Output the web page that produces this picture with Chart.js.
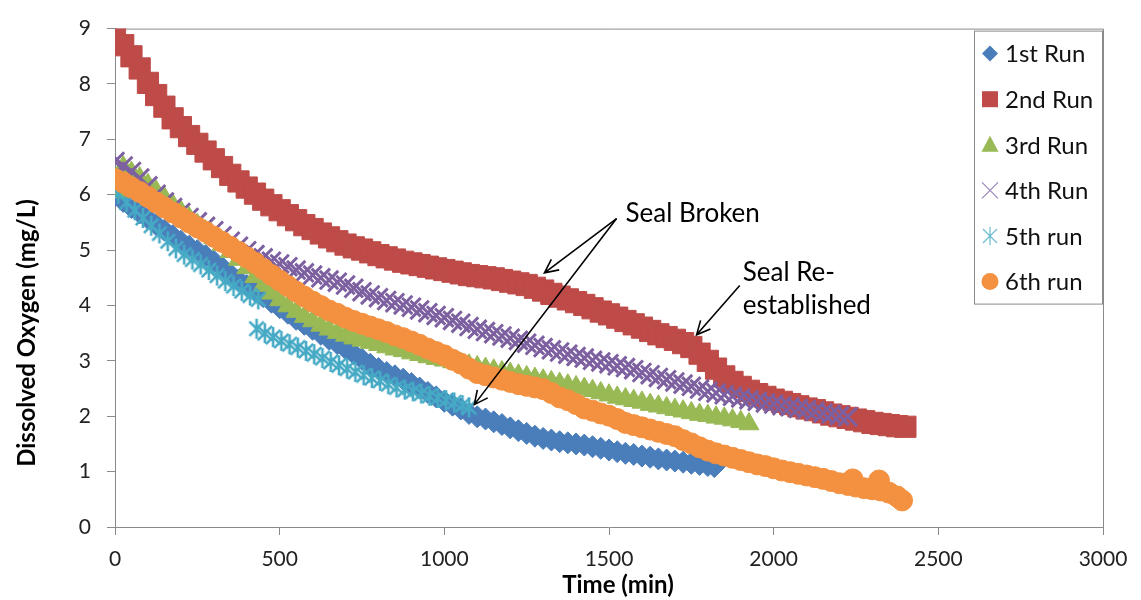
<!DOCTYPE html>
<html>
<head>
<meta charset="utf-8">
<title>Dissolved Oxygen</title>
<script src="https://cdn.jsdelivr.net/npm/chart.js@4.4.0/dist/chart.umd.min.js"></script>
<style>
  html, body { margin: 0; padding: 0; background: #fff; }
  #wrap { width: 1141px; height: 600px; }
</style>
</head>
<body>
<div id="wrap"><canvas id="chart" width="1141" height="600"></canvas></div>
<script>
//// readings: time (min) / dissolved oxygen (mg/L)
var run1Time = [0,25,50,75,100,125,150,175,200,225,250,275,300,325,350,375,400,425,450,475,500,525,550,575,600,625,650,675,700,725,750,775,800,825,850,875,900,925,950,975,1000,1025,1050,1075,1100,1125,1150,1175,1200,1225,1250,1275,1300,1325,1350,1375,1400,1425,1450,1475,1500,1525,1550,1575,1600,1625,1650,1675,1700,1725,1750,1775,1800,1820];
var run1DO = [5.98,5.88,5.77,5.67,5.57,5.46,5.36,5.26,5.16,5.07,4.99,4.90,4.80,4.69,4.57,4.46,4.36,4.26,4.16,4.06,3.96,3.86,3.75,3.66,3.57,3.48,3.39,3.31,3.22,3.13,3.03,2.94,2.86,2.79,2.73,2.67,2.59,2.51,2.43,2.35,2.27,2.20,2.13,2.05,1.99,1.95,1.90,1.85,1.79,1.74,1.69,1.64,1.60,1.57,1.54,1.52,1.50,1.48,1.45,1.42,1.39,1.36,1.33,1.31,1.28,1.26,1.23,1.21,1.19,1.17,1.15,1.13,1.11,1.09];

var run2Time = [0,25,50,75,100,125,150,175,200,225,250,275,300,325,350,375,400,425,450,475,500,525,550,575,600,625,650,675,700,725,750,775,800,825,850,875,900,925,950,975,1000,1025,1050,1075,1100,1125,1150,1175,1200,1225,1250,1275,1300,1325,1350,1375,1400,1425,1450,1475,1500,1525,1550,1575,1600,1625,1650,1675,1700,1725,1750,1775,1800,1825,1850,1875,1900,1925,1950,1975,2000,2025,2050,2075,2100,2125,2150,2175,2200,2225,2250,2275,2300,2325,2350,2375,2400];
var run2DO = [8.85,8.70,8.50,8.28,8.02,7.80,7.59,7.38,7.22,7.06,6.92,6.78,6.64,6.50,6.36,6.24,6.13,6.02,5.91,5.81,5.72,5.63,5.54,5.45,5.38,5.30,5.23,5.16,5.10,5.05,5.01,4.96,4.91,4.87,4.83,4.79,4.76,4.73,4.70,4.67,4.64,4.61,4.58,4.55,4.53,4.51,4.49,4.46,4.43,4.40,4.37,4.32,4.27,4.21,4.16,4.11,4.06,4.01,3.95,3.89,3.84,3.78,3.72,3.66,3.60,3.54,3.48,3.43,3.38,3.32,3.25,3.13,3.00,2.86,2.72,2.62,2.53,2.46,2.40,2.35,2.30,2.26,2.22,2.18,2.14,2.11,2.07,2.03,2.00,1.97,1.94,1.91,1.88,1.86,1.84,1.82,1.81];

var run3Time = [0,25,50,75,100,125,150,175,200,225,250,275,300,325,350,375,400,425,450,475,500,525,550,575,600,625,650,675,700,725,750,775,800,825,850,875,900,925,950,975,1000,1025,1050,1075,1100,1125,1150,1175,1200,1225,1250,1275,1300,1325,1350,1375,1400,1425,1450,1475,1500,1525,1550,1575,1600,1625,1650,1675,1700,1725,1750,1775,1800,1825,1850,1875,1900,1925];
var run3DO = [6.05,6.50,6.40,6.30,6.18,6.06,5.94,5.82,5.70,5.58,5.46,5.34,5.22,5.10,4.97,4.83,4.68,4.52,4.36,4.22,4.10,3.99,3.89,3.80,3.72,3.64,3.57,3.51,3.46,3.41,3.37,3.33,3.29,3.25,3.21,3.18,3.14,3.11,3.07,3.04,3.01,2.98,2.95,2.92,2.89,2.86,2.83,2.80,2.77,2.74,2.71,2.68,2.65,2.62,2.59,2.56,2.53,2.50,2.46,2.42,2.38,2.34,2.31,2.28,2.25,2.21,2.18,2.15,2.12,2.09,2.06,2.03,2.01,1.98,1.96,1.93,1.90,1.86];

var run4Time = [0,25,50,75,100,125,150,175,200,225,250,275,300,325,350,375,400,425,450,475,500,525,550,575,600,625,650,675,700,725,750,775,800,825,850,875,900,925,950,975,1000,1025,1050,1075,1100,1125,1150,1175,1200,1225,1250,1275,1300,1325,1350,1375,1400,1425,1450,1475,1500,1525,1550,1575,1600,1625,1650,1675,1700,1725,1750,1775,1800,1825,1850,1875,1900,1925,1950,1975,2000,2025,2050,2075,2100,2125,2150,2175,2200,2225];
var run4DO = [6.60,6.52,6.42,6.30,6.16,6.01,5.87,5.77,5.68,5.59,5.51,5.43,5.35,5.26,5.16,5.07,4.99,4.92,4.86,4.80,4.75,4.70,4.64,4.59,4.55,4.50,4.46,4.42,4.37,4.31,4.25,4.19,4.14,4.09,4.05,4.01,3.97,3.92,3.87,3.82,3.78,3.73,3.68,3.62,3.57,3.53,3.49,3.45,3.41,3.37,3.32,3.28,3.24,3.20,3.16,3.12,3.08,3.05,3.01,2.98,2.95,2.91,2.88,2.84,2.79,2.75,2.70,2.66,2.62,2.58,2.54,2.49,2.45,2.42,2.39,2.36,2.33,2.30,2.27,2.24,2.22,2.19,2.17,2.14,2.12,2.09,2.06,2.04,2.01,1.99];

// 5th run was logged in two stretches
var run5Time = [10,35,60,85,110,135,160,185,210,235,260,285,310,335,360,385,410,435,
  430,455,480,505,530,555,580,605,630,655,680,705,730,755,780,805,830,855,880,905,930,955,980,1005,1030,1055,1075];
var run5DO = [6.02,5.86,5.72,5.58,5.44,5.30,5.16,5.03,4.92,4.83,4.74,4.64,4.54,4.44,4.35,4.26,4.18,4.11,
  3.58,3.50,3.43,3.36,3.30,3.24,3.18,3.12,3.05,2.98,2.92,2.86,2.80,2.74,2.69,2.64,2.58,2.52,2.48,2.45,2.41,2.37,2.33,2.29,2.25,2.20,2.16];

var run6Time = [0,25,50,75,100,125,150,175,200,225,250,275,300,325,350,375,400,425,450,475,500,525,550,575,600,625,650,675,700,725,750,775,800,825,850,875,900,925,950,975,1000,1025,1050,1075,1100,1125,1150,1175,1200,1225,1250,1275,1300,1325,1350,1375,1400,1425,1450,1475,1500,1525,1550,1575,1600,1625,1650,1675,1700,1725,1750,1775,1800,1825,1850,1875,1900,1925,1950,1975,2000,2025,2050,2075,2100,2125,2150,2175,2200,2225,2240,2250,2275,2300,2320,2325,2350,2375,2390];
var run6DO = [6.28,6.22,6.13,6.05,5.96,5.86,5.77,5.68,5.59,5.50,5.41,5.33,5.24,5.15,5.06,4.97,4.87,4.77,4.66,4.55,4.45,4.35,4.25,4.16,4.07,3.99,3.91,3.85,3.78,3.72,3.67,3.62,3.57,3.52,3.46,3.41,3.35,3.29,3.22,3.16,3.10,3.02,2.95,2.86,2.78,2.74,2.70,2.66,2.62,2.58,2.55,2.52,2.49,2.42,2.34,2.29,2.22,2.14,2.10,2.05,2.01,1.95,1.88,1.84,1.80,1.76,1.72,1.68,1.64,1.57,1.51,1.44,1.38,1.33,1.29,1.25,1.21,1.17,1.13,1.10,1.06,1.02,0.99,0.96,0.93,0.90,0.87,0.83,0.79,0.76,0.86,0.73,0.70,0.68,0.84,0.66,0.62,0.55,0.48];

var runNames = ['1st Run', '2nd Run', '3rd Run', '4th Run', '5th run', '6th run'];
var runColors = ['#4a7ebb', '#be4b48', '#98b954', '#7d60a0', '#46aac5', '#f39140'];

var xTicks = { min: 0, max: 3000, step: 500 };
var yTicks = { min: 0, max: 9, step: 1 };

function pairs(t, v) {
  return t.map(function (x, i) { return { x: x, y: v[i] }; });
}

// excel style asterisk: an X with a vertical bar
function asterisk(size, color, lw) {
  var c = document.createElement('canvas');
  c.width = size; c.height = size;
  var g = c.getContext('2d');
  var m = size / 2, r = size / 2 - 1;
  var d = r * 0.72;
  g.strokeStyle = color;
  g.lineWidth = lw;
  g.beginPath();
  g.moveTo(m - d, m - d); g.lineTo(m + d, m + d);
  g.moveTo(m + d, m - d); g.lineTo(m - d, m + d);
  g.moveTo(m, m - r); g.lineTo(m, m + r);
  g.stroke();
  return c;
}

var styles = [
  { pointStyle: 'rectRot', radius: 11 },
  { pointStyle: 'rect', radius: 15 },
  { pointStyle: 'triangle', radius: 11.5 },
  { pointStyle: 'crossRot', radius: 13, border: 3 },
  { pointStyle: asterisk(22, runColors[4], 2.6), radius: 11 },
  { pointStyle: 'circle', radius: 10.5 }
];

var runs = [
  pairs(run1Time, run1DO), pairs(run2Time, run2DO), pairs(run3Time, run3DO),
  pairs(run4Time, run4DO), pairs(run5Time, run5DO), pairs(run6Time, run6DO)
];

var datasets = runs.map(function (d, i) {
  return {
    label: runNames[i],
    data: d,
    order: runs.length - i,   // later runs paint over earlier ones
    showLine: false,
    pointStyle: styles[i].pointStyle,
    pointRadius: styles[i].radius,
    pointHoverRadius: styles[i].radius,
    pointBackgroundColor: runColors[i],
    pointBorderColor: runColors[i],
    pointBorderWidth: styles[i].border || 1
  };
});

// frame on top and right of plot
var frame = {
  id: 'frame',
  beforeDatasetsDraw: function (chart) {
    var a = chart.chartArea, ctx = chart.ctx;
    ctx.save();
    ctx.strokeStyle = '#8a8a8a';
    ctx.lineWidth = 1;
    ctx.beginPath();
    ctx.moveTo(a.left, a.top + 0.5);
    ctx.lineTo(a.right + 0.5, a.top + 0.5);
    ctx.lineTo(a.right + 0.5, a.bottom);
    ctx.stroke();
    ctx.restore();
  }
};

function legendMark(ctx, i, x, y) {
  var c = runColors[i];
  ctx.save();
  ctx.fillStyle = c;
  ctx.strokeStyle = c;
  ctx.beginPath();
  if (i === 0) {
    ctx.moveTo(x, y - 8); ctx.lineTo(x + 8, y); ctx.lineTo(x, y + 8); ctx.lineTo(x - 8, y);
    ctx.closePath(); ctx.fill();
  } else if (i === 1) {
    ctx.rect(x - 8, y - 8, 16, 16); ctx.fill();
  } else if (i === 2) {
    ctx.moveTo(x, y - 9); ctx.lineTo(x + 8.5, y + 7); ctx.lineTo(x - 8.5, y + 7);
    ctx.closePath(); ctx.fill();
  } else if (i === 3) {
    ctx.strokeStyle = '#9a86bb';
    ctx.lineWidth = 1.2;
    ctx.moveTo(x - 8, y - 8); ctx.lineTo(x + 8, y + 8);
    ctx.moveTo(x + 8, y - 8); ctx.lineTo(x - 8, y + 8);
    ctx.stroke();
  } else if (i === 4) {
    ctx.strokeStyle = '#6cbcd2';
    ctx.lineWidth = 1.2;
    ctx.moveTo(x - 7, y - 7); ctx.lineTo(x + 7, y + 7);
    ctx.moveTo(x + 7, y - 7); ctx.lineTo(x - 7, y + 7);
    ctx.moveTo(x, y - 9); ctx.lineTo(x, y + 9);
    ctx.stroke();
  } else {
    ctx.arc(x, y, 8.5, 0, Math.PI * 2); ctx.fill();
  }
  ctx.restore();
}

var boxLegend = {
  id: 'boxLegend',
  afterDraw: function (chart) {
    var a = chart.chartArea, ctx = chart.ctx;
    var w = 128, h = 273;
    var left = a.right - 1 - w, top = a.top + 2;
    ctx.save();
    ctx.fillStyle = '#fff';
    ctx.fillRect(left, top, w, h);
    ctx.strokeStyle = '#8a8a8a';
    ctx.lineWidth = 1;
    ctx.strokeRect(left + 0.5, top + 0.5, w, h);
    ctx.font = '24px Lato';
    ctx.fillStyle = '#111';
    ctx.textBaseline = 'middle';
    chart.data.datasets.forEach(function (ds, i) {
      var y = top + 23 + i * 45.6;
      legendMark(ctx, i, left + 16, y);
      ctx.fillText(ds.label, left + 31, y + 1);
    });
    ctx.restore();
  }
};

// arrows and notes, anchored in data units
var notes = [
  { text: ['Seal Broken'], at: [1550, 5.66] },
  { text: ['Seal Re-', 'established'], at: [1906, 4.59] }
];
var arrows = [
  { from: [1523, 5.57], to: [1304, 4.59] },
  { from: [1523, 5.57], to: [1091, 2.21] },
  { from: [1897, 4.36], to: [1766, 3.47] }
];

var callouts = {
  id: 'callouts',
  afterDatasetsDraw: function (chart) {
    var xs = chart.scales.x, ys = chart.scales.y, ctx = chart.ctx;
    ctx.save();
    ctx.strokeStyle = '#000';
    ctx.lineWidth = 1.6;
    arrows.forEach(function (ar) {
      var x1 = xs.getPixelForValue(ar.from[0]), y1 = ys.getPixelForValue(ar.from[1]);
      var x2 = xs.getPixelForValue(ar.to[0]), y2 = ys.getPixelForValue(ar.to[1]);
      var ang = Math.atan2(y2 - y1, x2 - x1), hl = 15, sp = 0.45;
      ctx.beginPath();
      ctx.moveTo(x1, y1); ctx.lineTo(x2, y2);
      ctx.moveTo(x2 - hl * Math.cos(ang - sp), y2 - hl * Math.sin(ang - sp));
      ctx.lineTo(x2, y2);
      ctx.lineTo(x2 - hl * Math.cos(ang + sp), y2 - hl * Math.sin(ang + sp));
      ctx.stroke();
    });
    ctx.font = '26px Lato';
    ctx.fillStyle = '#000';
    ctx.textBaseline = 'middle';
    notes.forEach(function (n) {
      var x = xs.getPixelForValue(n.at[0]), y = ys.getPixelForValue(n.at[1]);
      n.text.forEach(function (line, k) { ctx.fillText(line, x, y + k * 33); });
    });
    // axis titles
    ctx.font = 'bold 24px Lato';
    ctx.textAlign = 'center';
    ctx.fillText('Time (min)', 618, 585);
    ctx.translate(27, 333);
    ctx.rotate(-Math.PI / 2);
    ctx.fillText('Dissolved Oxygen (mg/L)', 0, 0);
    ctx.restore();
  }
};

Chart.defaults.font.family = 'Lato';
Chart.defaults.color = '#222';

var statChart = new Chart(document.getElementById('chart'), {
  type: 'scatter',
  data: { datasets: datasets },
  options: {
    responsive: false,
    animation: false,
    layout: { padding: { left: 0, right: 38, top: 23, bottom: 0 } },
    plugins: { legend: { display: false }, tooltip: { enabled: false } },
    scales: {
      x: {
        type: 'linear',
        min: xTicks.min, max: xTicks.max,
        border: { color: '#8a8a8a' },
        grid: { drawOnChartArea: false, color: '#8a8a8a', tickLength: 8 },
        ticks: {
          stepSize: xTicks.step, padding: 12, color: '#222',
          font: { size: 21 },
          callback: function (v) { return String(v); }
        },
        afterFit: function (s) { s.height = 73; }
      },
      y: {
        min: yTicks.min, max: yTicks.max,
        border: { color: '#8a8a8a' },
        grid: { drawOnChartArea: false, color: '#8a8a8a', tickLength: 8 },
        ticks: { stepSize: yTicks.step, padding: 16, color: '#222', font: { size: 21 } },
        afterFit: function (s) { s.width = 115; }
      }
    }
  },
  plugins: [frame, callouts, boxLegend]
});
</script>
</body>
</html>
